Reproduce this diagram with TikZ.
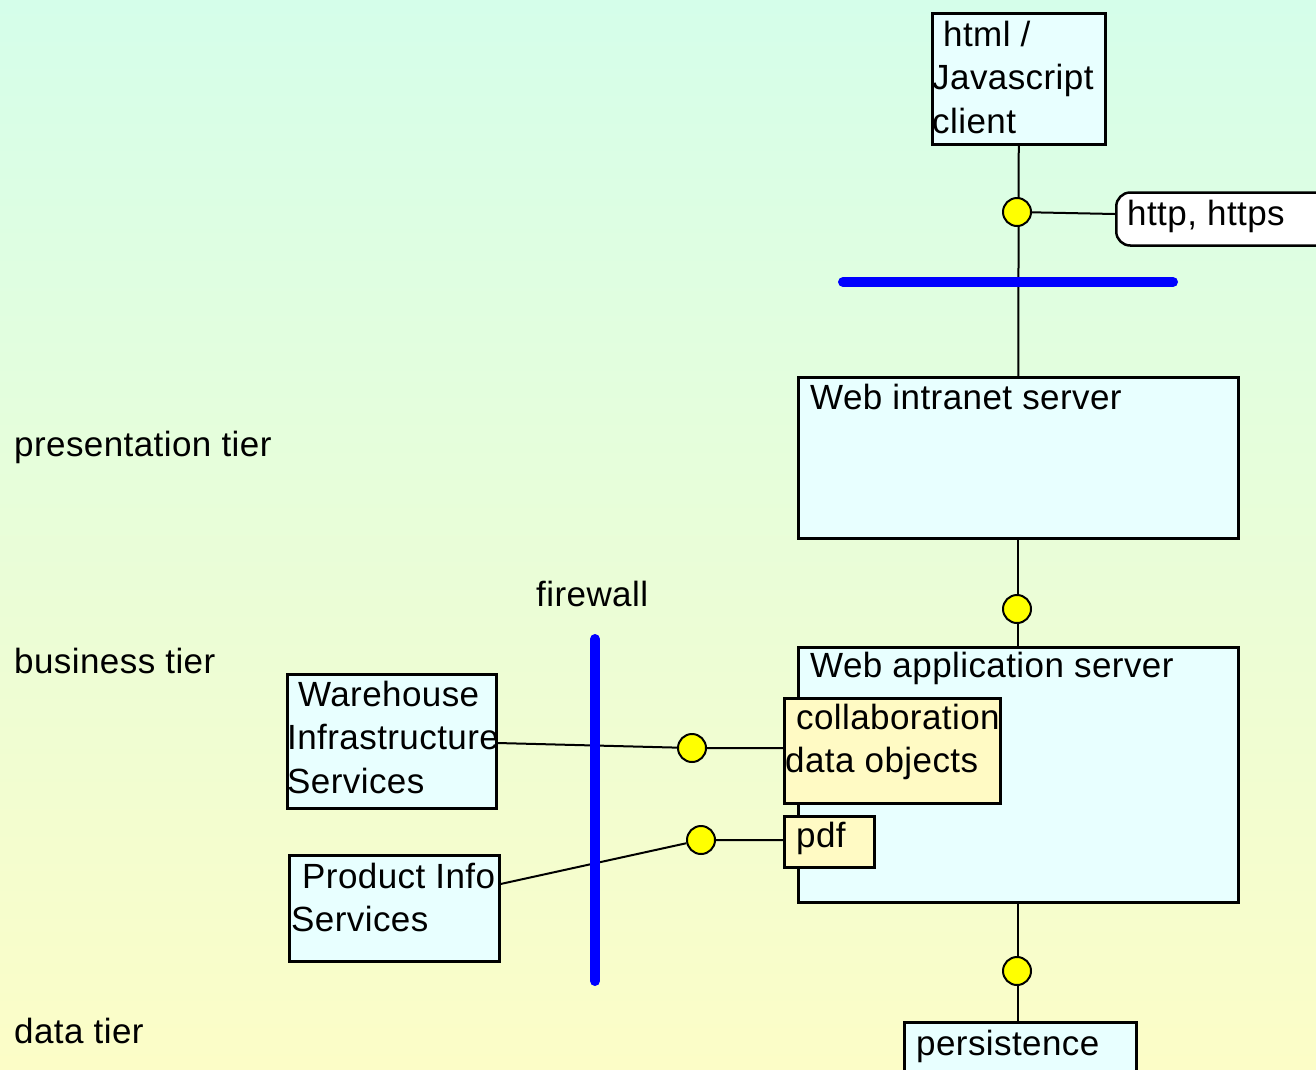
\documentclass[tikz,border=0pt]{standalone}
\usepackage{fontspec}
\setmainfont{Liberation Sans}[LetterSpace=1.2]
\usetikzlibrary{calc}
\pgfdeclarelayer{bg}
\pgfdeclarelayer{wires}
\pgfsetlayers{bg,wires,main}
\definecolor{bgtop}{RGB}{213,254,234}
\definecolor{bgbot}{RGB}{252,253,199}
\definecolor{boxfill}{RGB}{232,255,255}
\definecolor{notefill}{RGB}{255,250,196}
\definecolor{fwblue}{RGB}{0,0,255}
\definecolor{portfill}{RGB}{255,255,0}
% left-aligned stack of lines, baseline at the first line
\newcommand{\txtlines}[1]{\begin{tabular}[t]{@{}l@{}}#1\end{tabular}}

\begin{document}
\begin{tikzpicture}[x=1pt,y=-1pt,
  every node/.style={font=\fontsize{35}{43.5}\selectfont},
  comp/.style={draw, line width=2.5pt, fill=boxfill, anchor=north west, inner sep=0pt},
  note/.style={comp, fill=notefill},
  txt/.style={anchor=base west, inner sep=0pt},
  port/.style={draw, line width=2pt, fill=portfill, circle, minimum size=28pt, inner sep=0pt},
  wire/.style={line width=2pt},
  barrier/.style={line width=10pt, fwblue, line cap=round}]

\useasboundingbox (0,0) rectangle (1316,1069);
\clip (0,0) rectangle (1316,1069);
\begin{pgfonlayer}{bg}
  \shade[top color=bgtop, bottom color=bgbot] (0,0) rectangle (1316,1069);
\end{pgfonlayer}

% tier labels
\node[txt] (tier1) at (14,456) {presentation tier};
\node[txt] (tier2) at (14,673) {business tier};
\node[txt] (tier3) at (14,1043) {data tier};

% client and protocol
\node[comp, minimum width=173pt, minimum height=131pt] (client) at (931,12) {};
\node[txt] (clienttxt) at (932,46) {\txtlines{\hspace*{11pt}html /\\Javascript\\client}};
\node[port] (p1) at (1017,212) {};
\node[draw, line width=2.5pt, fill=white, rounded corners=14pt, minimum width=260pt,
      minimum height=53pt, anchor=west, inner sep=0pt] (http) at (1115,219) {};
\node[txt] (httptxt) at (1127,225) {http, https};

% servers
\node[comp, minimum width=440pt, minimum height=161pt] (intranet) at (797,376) {};
\node[txt] (intranettxt) at (810,409) {Web intranet server};
\node[port] (p2) at (1017,609) {};
\node[comp, minimum width=440pt, minimum height=255pt] (appsrv) at (797,646) {};
\node[txt] (appsrvtxt) at (810,677) {Web application server};
\node[note, minimum width=216pt, minimum height=105pt] (collab) at (783,697) {};
\node[txt] (collabtxt) at (785,729) {\txtlines{\hspace*{11pt}collaboration\\data objects}};
\node[note, minimum width=90pt, minimum height=51pt] (pdf) at (783,815) {};
\node[txt] (pdftxt) at (796,847) {pdf};
\node[port] (p4) at (692,748) {};
\node[port] (p5) at (701,840) {};

% external services
\node[comp, minimum width=209pt, minimum height=134pt] (wh) at (286,673) {};
\node[txt] (whtxt) at (287,706) {\txtlines{\hspace*{11pt}Warehouse\\Infrastructure\\Services}};
\node[comp, minimum width=210pt, minimum height=106pt] (prod) at (288,854) {};
\node[txt] (prodtxt) at (291,888) {\txtlines{\hspace*{11pt}Product Info\\Services}};

% data tier
\node[port] (p3) at (1017,971) {};
\node[comp, minimum width=232pt, minimum height=80pt] (persist) at (903,1021) {};
\node[txt] (persisttxt) at (916,1055) {persistence};

\node[txt] (fwtxt) at (536,606) {firewall};

% connectors
\begin{pgfonlayer}{wires}
  \draw[wire] (client.south) -- (intranet.north);
  \draw[wire] (p1) -- ($(http.west)+(0,-5)$);
  \draw[wire] (intranet.south) -- (appsrv.north);
  \draw[wire] (appsrv.south) -- (appsrv.south |- persist.north);
  \draw[wire] ($(wh.north east)+(0,70)$) -- (p4) -- (p4 -| collab.west);
  \draw[wire] ($(prod.north east)+(0,30)$) -- (p5) -- (p5 -| pdf.west);
\end{pgfonlayer}

% barriers
\draw[barrier] (843,282) -- (1173,282);
\draw[barrier] (595,639) -- (595,981);
\end{tikzpicture}
\end{document}
